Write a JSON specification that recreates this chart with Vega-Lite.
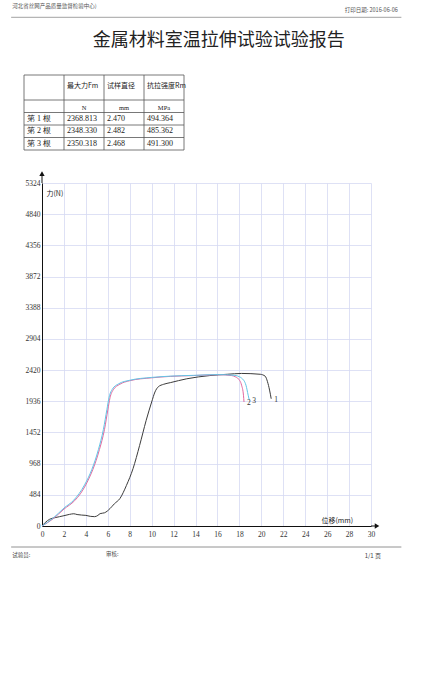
{
  "$schema": "https://vega.github.io/schema/vega-lite/v6.json",
  "background": "white",
  "padding": {"left": 10, "top": 0, "right": 0, "bottom": 0},
  "columns": 1,
  "spacing": 8,
  "align": "none",
  "config": {
    "font": "Noto Sans CJK SC",
    "view": {"stroke": null},
    "axis": {"labelOverlap": false, "labelFlush": false}
  },
  "concat": [
    {
      "columns": 1,
      "spacing": 20,
      "align": "none",
      "concat": [
        {
          "width": 363,
          "height": 54,
          "layer": [
            {
              "data": {"values": [{"t": "河北省丝网产品质量监督检验中心)"}]},
              "mark": {"type": "text", "align": "left", "baseline": "middle", "fontSize": 5.5, "color": "#555"},
              "encoding": {
                "x": {"datum": -0.082, "type": "quantitative", "scale": {"domain": [0, 1], "zero": false, "nice": false}, "axis": null},
                "y": {"datum": 6, "type": "quantitative", "scale": {"domain": [0, 54], "reverse": true}, "axis": null},
                "text": {"field": "t"}
              }
            },
            {
              "data": {"values": [{"t": "打印日期: 2016-06-06"}]},
              "mark": {"type": "text", "align": "right", "baseline": "middle", "fontSize": 5.5, "color": "#555"},
              "encoding": {
                "x": {"datum": 0.98, "type": "quantitative", "scale": {"domain": [0, 1], "zero": false, "nice": false}, "axis": null},
                "y": {"datum": 10.3, "type": "quantitative", "scale": {"domain": [0, 54], "reverse": true}, "axis": null},
                "text": {"field": "t"}
              }
            },
            {
              "data": {"values": [{}]},
              "mark": {"type": "rule", "color": "#8a8a8a", "strokeWidth": 0.8},
              "encoding": {
                "x": {"datum": -0.085, "type": "quantitative", "scale": {"domain": [0, 1], "zero": false, "nice": false}, "axis": null},
                "x2": {"datum": 0.99},
                "y": {"datum": 17.3, "type": "quantitative", "scale": {"domain": [0, 54], "reverse": true}, "axis": null}
              }
            },
            {
              "data": {"values": [{"t": "金属材料室温拉伸试验试验报告"}]},
              "mark": {"type": "text", "align": "center", "baseline": "middle", "fontSize": 18, "color": "#222"},
              "encoding": {
                "x": {"datum": 0.487, "type": "quantitative", "scale": {"domain": [0, 1], "zero": false, "nice": false}, "axis": null},
                "y": {"datum": 40.7, "type": "quantitative", "scale": {"domain": [0, 54], "reverse": true}, "axis": null},
                "text": {"field": "t"}
              }
            }
          ]
        },
        {
          "width": 142,
          "height": 75,
          "layer": [
            {
              "data": {"values": [{"r": "h1"}, {"r": "u"}, {"r": "r1"}, {"r": "r2"}, {"r": "r3"}]},
              "mark": {"type": "rule", "color": "#555", "strokeWidth": 0.8},
              "encoding": {
                "x": {"datum": "name", "type": "nominal", "bandPosition": 0,
                      "scale": {"type": "band", "domain": ["name", "Fm", "d", "Rm"], "range": [-18, 142], "paddingInner": 0, "paddingOuter": 0}, "axis": null},
                "x2": {"datum": "Rm", "bandPosition": 1},
                "y": {"field": "r", "type": "nominal", "bandPosition": 0,
                      "scale": {"type": "band", "domain": ["h1", "h2", "u", "r1", "r2", "r3"], "paddingInner": 0, "paddingOuter": 0},
                      "axis": null}
              }
            },
            {
              "data": {"values": [{"r": "r3"}]},
              "mark": {"type": "rule", "color": "#555", "strokeWidth": 0.8},
              "encoding": {
                "x": {"datum": "name", "type": "nominal", "bandPosition": 0,
                      "scale": {"type": "band", "domain": ["name", "Fm", "d", "Rm"], "range": [-18, 142], "paddingInner": 0, "paddingOuter": 0}, "axis": null},
                "x2": {"datum": "Rm", "bandPosition": 1},
                "y": {"field": "r", "type": "nominal", "bandPosition": 1,
                      "scale": {"type": "band", "domain": ["h1", "h2", "u", "r1", "r2", "r3"], "paddingInner": 0, "paddingOuter": 0},
                      "axis": null}
              }
            },
            {
              "data": {"values": [{"c": "name"}, {"c": "Fm"}, {"c": "d"}, {"c": "Rm"}]},
              "mark": {"type": "rule", "color": "#555", "strokeWidth": 0.8},
              "encoding": {
                "x": {"field": "c", "type": "nominal", "bandPosition": 0,
                      "scale": {"type": "band", "domain": ["name", "Fm", "d", "Rm"], "range": [-18, 142], "paddingInner": 0, "paddingOuter": 0},
                      "axis": null}
              }
            },
            {
              "data": {"values": [{"c": "Rm"}]},
              "mark": {"type": "rule", "color": "#555", "strokeWidth": 0.8},
              "encoding": {
                "x": {"field": "c", "type": "nominal", "bandPosition": 1,
                      "scale": {"type": "band", "domain": ["name", "Fm", "d", "Rm"], "range": [-18, 142], "paddingInner": 0, "paddingOuter": 0},
                      "axis": null}
              }
            },
            {
              "data": {"values": [
                {"r": "h2", "c": "Fm", "t": "最大力Fm"},
                {"r": "h2", "c": "d", "t": "试样直径"},
                {"r": "h2", "c": "Rm", "t": "抗拉强度Rm"}
              ]},
              "mark": {"type": "text", "align": "left", "baseline": "middle", "dx": 3, "dy": -2, "fontSize": 7, "color": "#222"},
              "encoding": {
                "x": {"field": "c", "type": "nominal", "bandPosition": 0, "scale": {"type": "band", "domain": ["name", "Fm", "d", "Rm"], "range": [-18, 142], "paddingInner": 0, "paddingOuter": 0}, "axis": null},
                "y": {"field": "r", "type": "nominal", "bandPosition": 0, "scale": {"type": "band", "domain": ["h1", "h2", "u", "r1", "r2", "r3"], "paddingInner": 0, "paddingOuter": 0}, "axis": null},
                "text": {"field": "t"}
              }
            },
            {
              "data": {"values": [
                {"r": "u", "c": "Fm", "t": "N"},
                {"r": "u", "c": "d", "t": "mm"},
                {"r": "u", "c": "Rm", "t": "MPa"}
              ]},
              "mark": {"type": "text", "align": "center", "baseline": "middle", "dy": 2, "fontSize": 6.5, "font": "Liberation Serif", "color": "#222"},
              "encoding": {
                "x": {"field": "c", "type": "nominal", "scale": {"type": "band", "domain": ["name", "Fm", "d", "Rm"], "range": [-18, 142], "paddingInner": 0, "paddingOuter": 0}, "axis": null},
                "y": {"field": "r", "type": "nominal", "scale": {"type": "band", "domain": ["h1", "h2", "u", "r1", "r2", "r3"], "paddingInner": 0, "paddingOuter": 0}, "axis": null},
                "text": {"field": "t"}
              }
            },
            {
              "data": {"values": [
                {"r": "r1", "name": "第 1 根", "Fm": "2368.813", "d": "2.470", "Rm": "494.364"},
                {"r": "r2", "name": "第 2 根", "Fm": "2348.330", "d": "2.482", "Rm": "485.362"},
                {"r": "r3", "name": "第 3 根", "Fm": "2350.318", "d": "2.468", "Rm": "491.300"}
              ]},
              "transform": [{"fold": ["name", "Fm", "d", "Rm"], "as": ["c", "t"]}],
              "mark": {"type": "text", "align": "left", "baseline": "middle", "dx": 3, "fontSize": 8, "font": "Liberation Serif", "color": "#222"},
              "encoding": {
                "x": {"field": "c", "type": "nominal", "bandPosition": 0, "scale": {"type": "band", "domain": ["name", "Fm", "d", "Rm"], "range": [-18, 142], "paddingInner": 0, "paddingOuter": 0}, "axis": null},
                "y": {"field": "r", "type": "nominal", "scale": {"type": "band", "domain": ["h1", "h2", "u", "r1", "r2", "r3"], "paddingInner": 0, "paddingOuter": 0}, "axis": null},
                "text": {"field": "t"}
              }
            }
          ]
        },
        {
          "width": 329,
          "height": 343,
          "layer": [
            {
              "data": {"values": [
                {"s": "1", "x": 0, "y": 0}, {"s": "1", "x": 0.3, "y": 55}, {"s": "1", "x": 0.7, "y": 105}, {"s": "1", "x": 1.2, "y": 130},
                {"s": "1", "x": 1.6, "y": 145}, {"s": "1", "x": 2.0, "y": 160}, {"s": "1", "x": 2.5, "y": 180}, {"s": "1", "x": 2.9, "y": 190},
                {"s": "1", "x": 3.2, "y": 178}, {"s": "1", "x": 3.6, "y": 170}, {"s": "1", "x": 4.0, "y": 165}, {"s": "1", "x": 4.4, "y": 150},
                {"s": "1", "x": 4.8, "y": 145}, {"s": "1", "x": 5.1, "y": 165}, {"s": "1", "x": 5.3, "y": 192}, {"s": "1", "x": 5.7, "y": 205},
                {"s": "1", "x": 6.2, "y": 270}, {"s": "1", "x": 6.6, "y": 345}, {"s": "1", "x": 7.1, "y": 425}, {"s": "1", "x": 7.7, "y": 630},
                {"s": "1", "x": 8.3, "y": 890}, {"s": "1", "x": 8.9, "y": 1250}, {"s": "1", "x": 9.5, "y": 1640}, {"s": "1", "x": 10.0, "y": 1925},
                {"s": "1", "x": 10.3, "y": 2080}, {"s": "1", "x": 10.6, "y": 2160}, {"s": "1", "x": 11.1, "y": 2200}, {"s": "1", "x": 11.7, "y": 2225},
                {"s": "1", "x": 13.2, "y": 2285}, {"s": "1", "x": 15.3, "y": 2335}, {"s": "1", "x": 16.9, "y": 2355}, {"s": "1", "x": 18.2, "y": 2368},
                {"s": "1", "x": 19.9, "y": 2355}, {"s": "1", "x": 20.35, "y": 2325}, {"s": "1", "x": 20.56, "y": 2240}, {"s": "1", "x": 20.75, "y": 2110},
                {"s": "1", "x": 20.9, "y": 1975},
                {"s": "2", "x": 0, "y": 0}, {"s": "2", "x": 1.0, "y": 110}, {"s": "2", "x": 2.0, "y": 262}, {"s": "2", "x": 2.97, "y": 392},
                {"s": "2", "x": 3.5, "y": 500}, {"s": "2", "x": 3.94, "y": 622}, {"s": "2", "x": 4.3, "y": 745}, {"s": "2", "x": 4.64, "y": 878},
                {"s": "2", "x": 5.24, "y": 1188}, {"s": "2", "x": 5.7, "y": 1500}, {"s": "2", "x": 6.0, "y": 1800}, {"s": "2", "x": 6.2, "y": 1990},
                {"s": "2", "x": 6.5, "y": 2115}, {"s": "2", "x": 7.1, "y": 2200}, {"s": "2", "x": 8.0, "y": 2255}, {"s": "2", "x": 10.0, "y": 2300},
                {"s": "2", "x": 11.7, "y": 2322}, {"s": "2", "x": 13.8, "y": 2335}, {"s": "2", "x": 16.1, "y": 2348}, {"s": "2", "x": 17.3, "y": 2335},
                {"s": "2", "x": 17.6, "y": 2318}, {"s": "2", "x": 17.9, "y": 2285}, {"s": "2", "x": 18.2, "y": 2185}, {"s": "2", "x": 18.37, "y": 2030},
                {"s": "2", "x": 18.42, "y": 1925},
                {"s": "3", "x": 0, "y": 0}, {"s": "3", "x": 1.0, "y": 120}, {"s": "3", "x": 2.0, "y": 278}, {"s": "3", "x": 2.9, "y": 402},
                {"s": "3", "x": 3.88, "y": 638}, {"s": "3", "x": 4.55, "y": 880}, {"s": "3", "x": 5.15, "y": 1190}, {"s": "3", "x": 5.6, "y": 1500},
                {"s": "3", "x": 5.92, "y": 1810}, {"s": "3", "x": 6.12, "y": 2000}, {"s": "3", "x": 6.42, "y": 2125}, {"s": "3", "x": 7.0, "y": 2208},
                {"s": "3", "x": 8.0, "y": 2262}, {"s": "3", "x": 10.0, "y": 2306}, {"s": "3", "x": 11.7, "y": 2326}, {"s": "3", "x": 13.8, "y": 2338},
                {"s": "3", "x": 16.1, "y": 2350}, {"s": "3", "x": 17.6, "y": 2338}, {"s": "3", "x": 18.0, "y": 2316}, {"s": "3", "x": 18.2, "y": 2296},
                {"s": "3", "x": 18.6, "y": 2185}, {"s": "3", "x": 18.8, "y": 2030}, {"s": "3", "x": 18.9, "y": 1955}
              ]},
              "encoding": {
                "x": {"field": "x", "type": "quantitative",
                      "scale": {"domain": [0, 30], "nice": false, "zero": false},
                      "axis": {"values": [0, 2, 4, 6, 8, 10, 12, 14, 16, 18, 20, 22, 24, 26, 28, 30], "tickCount": 16, "format": "d",
                               "title": "位移(mm)", "titleX": 279, "titleY": -6, "titleAlign": "left", "titleBaseline": "middle",
                               "titleAngle": 0,
                               "titleFontSize": 7, "titleFontWeight": "normal", "titleColor": "#222",
                               "labelFont": "Liberation Serif", "labelFontSize": 7.5, "labelColor": "#333", "labelPadding": 4,
                               "labelFlush": false, "labelOverlap": false,
                               "ticks": false, "domainColor": "#111", "domainWidth": 1,
                               "gridColor": "#d6d9f3", "gridWidth": 0.8, "gridOpacity": 1}},
                "y": {"field": "y", "type": "quantitative",
                      "scale": {"domain": [0, 5324], "nice": false},
                      "axis": {"values": [0, 484, 968, 1452, 1936, 2420, 2904, 3388, 3872, 4356, 4840, 5324], "tickCount": 12, "format": "d",
                               "title": "力(N)", "titleX": 4, "titleY": 10, "titleAlign": "left", "titleBaseline": "middle",
                               "titleAngle": 0,
                               "titleFontSize": 7, "titleFontWeight": "normal", "titleColor": "#222",
                               "labelFont": "Liberation Serif", "labelFontSize": 7.5, "labelColor": "#333", "labelPadding": 2,
                               "labelFlush": false, "labelOverlap": false,
                               "ticks": false, "domainColor": "#111", "domainWidth": 1,
                               "gridColor": "#d6d9f3", "gridWidth": 0.8, "gridOpacity": 1,
                               "minExtent": 32, "maxExtent": 32}}
              },
              "layer": [
                {
                  "mark": {"type": "line", "strokeWidth": 1, "interpolate": "monotone"},
                  "encoding": {
                    "color": {"field": "s", "type": "nominal", "legend": null,
                              "scale": {"domain": ["1", "2", "3"], "range": ["#3c3c3c", "#e2689f", "#62c5e6"]}}
                  }
                },
                {
                  "transform": [
                    {"joinaggregate": [{"op": "max", "field": "x", "as": "xmax"}], "groupby": ["s"]},
                    {"filter": "datum.x === datum.xmax"}
                  ],
                  "mark": {"type": "text", "align": "left", "baseline": "middle", "dx": 3, "dy": 1, "fontSize": 7.5, "font": "Liberation Serif", "color": "#333"},
                  "encoding": {"text": {"field": "s"}}
                }
              ]
            },
            {
              "data": {"values": [{}]},
              "mark": {"type": "rule", "color": "#111", "strokeWidth": 1},
              "encoding": {"x": {"datum": 0}, "y": {"datum": 5324}, "y2": {"datum": 5440}}
            },
            {
              "data": {"values": [{}]},
              "mark": {"type": "rule", "color": "#111", "strokeWidth": 1},
              "encoding": {"x": {"datum": 30}, "x2": {"datum": 30.4}, "y": {"datum": 0}}
            },
            {
              "data": {"values": [{}]},
              "mark": {"type": "point", "shape": "triangle-up", "filled": true, "size": 28, "color": "#111", "opacity": 1},
              "encoding": {"x": {"datum": 0}, "y": {"datum": 5470}}
            },
            {
              "data": {"values": [{}]},
              "mark": {"type": "point", "shape": "triangle-right", "filled": true, "size": 28, "color": "#111", "opacity": 1},
              "encoding": {"x": {"datum": 30.55}, "y": {"datum": 0}}
            }
          ]
        }
      ]
    },
    {
      "width": 363,
      "height": 16,
      "layer": [
        {
          "data": {"values": [{}]},
          "mark": {"type": "rule", "color": "#777", "strokeWidth": 0.8},
          "encoding": {
            "x": {"datum": -0.085, "type": "quantitative", "scale": {"domain": [0, 1], "zero": false, "nice": false}, "axis": null},
            "x2": {"datum": 0.99},
            "y": {"datum": 0, "type": "quantitative", "scale": {"domain": [0, 16], "reverse": true}, "axis": null}
          }
        },
        {
          "data": {"values": [{"t": "试验员:"}]},
          "mark": {"type": "text", "align": "left", "baseline": "middle", "fontSize": 5.5, "color": "#444"},
          "encoding": {
            "x": {"datum": -0.082, "type": "quantitative", "scale": {"domain": [0, 1], "zero": false, "nice": false}, "axis": null},
            "y": {"datum": 8, "type": "quantitative", "scale": {"domain": [0, 16], "reverse": true}, "axis": null},
            "text": {"field": "t"}
          }
        },
        {
          "data": {"values": [{"t": "审核:"}]},
          "mark": {"type": "text", "align": "left", "baseline": "middle", "fontSize": 5.5, "color": "#444"},
          "encoding": {
            "x": {"datum": 0.176, "type": "quantitative", "scale": {"domain": [0, 1], "zero": false, "nice": false}, "axis": null},
            "y": {"datum": 7, "type": "quantitative", "scale": {"domain": [0, 16], "reverse": true}, "axis": null},
            "text": {"field": "t"}
          }
        },
        {
          "data": {"values": [{"t": "1/1 页"}]},
          "mark": {"type": "text", "align": "right", "baseline": "middle", "fontSize": 6, "color": "#444"},
          "encoding": {
            "x": {"datum": 0.934, "type": "quantitative", "scale": {"domain": [0, 1], "zero": false, "nice": false}, "axis": null},
            "y": {"datum": 9, "type": "quantitative", "scale": {"domain": [0, 16], "reverse": true}, "axis": null},
            "text": {"field": "t"}
          }
        }
      ]
    }
  ]
}
